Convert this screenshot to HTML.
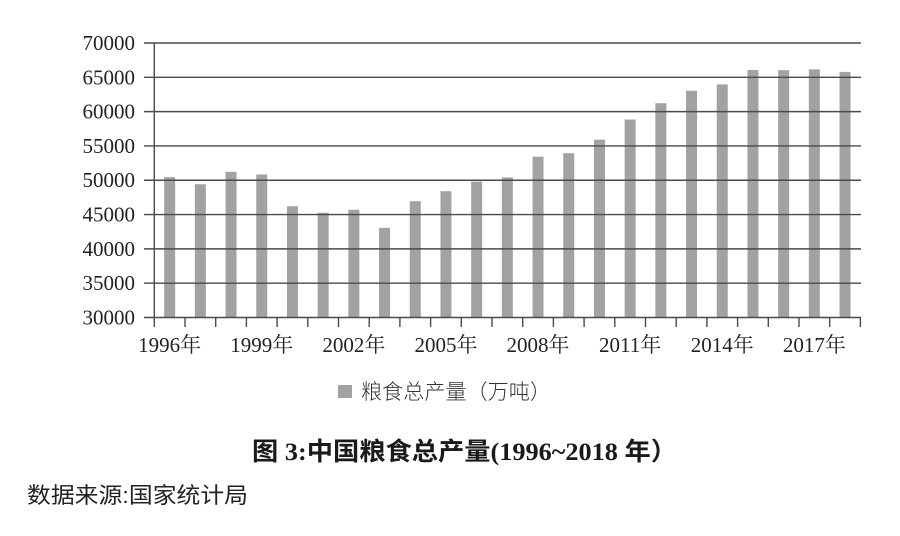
<!DOCTYPE html>
<html><head><meta charset="utf-8"><style>
html,body{margin:0;padding:0;background:#fff;}
svg{display:block;}
</style></head><body>
<svg width="900" height="536" viewBox="0 0 900 536" xmlns="http://www.w3.org/2000/svg">
<rect width="900" height="536" fill="#fff"/>
<g fill="#a2a2a2">
<rect x="164.15" y="177.13" width="11" height="140.37"/>
<rect x="194.85" y="184.25" width="11" height="133.25"/>
<rect x="225.55" y="171.81" width="11" height="145.69"/>
<rect x="256.25" y="174.49" width="11" height="143.01"/>
<rect x="286.95" y="206.20" width="11" height="111.30"/>
<rect x="317.65" y="212.75" width="11" height="104.75"/>
<rect x="348.35" y="209.72" width="11" height="107.78"/>
<rect x="379.05" y="227.81" width="11" height="89.69"/>
<rect x="409.75" y="201.20" width="11" height="116.30"/>
<rect x="440.45" y="191.22" width="11" height="126.28"/>
<rect x="471.15" y="181.59" width="11" height="135.91"/>
<rect x="501.85" y="177.41" width="11" height="140.09"/>
<rect x="532.55" y="156.68" width="11" height="160.82"/>
<rect x="563.25" y="153.20" width="11" height="164.30"/>
<rect x="593.95" y="139.69" width="11" height="177.81"/>
<rect x="624.65" y="119.52" width="11" height="197.98"/>
<rect x="655.35" y="103.23" width="11" height="214.27"/>
<rect x="686.05" y="90.71" width="11" height="226.79"/>
<rect x="716.75" y="84.41" width="11" height="233.09"/>
<rect x="747.45" y="70.04" width="11" height="247.46"/>
<rect x="778.15" y="70.15" width="11" height="247.35"/>
<rect x="808.85" y="69.34" width="11" height="248.16"/>
<rect x="839.55" y="71.90" width="11" height="245.60"/>
</g>
<g stroke="#4a4a4a" stroke-width="1.4" fill="none">
<line x1="144" y1="43" x2="861" y2="43"/>
<line x1="144" y1="77.31" x2="861" y2="77.31"/>
<line x1="144" y1="111.63" x2="861" y2="111.63"/>
<line x1="144" y1="145.94" x2="861" y2="145.94"/>
<line x1="144" y1="180.25" x2="861" y2="180.25"/>
<line x1="144" y1="214.56" x2="861" y2="214.56"/>
<line x1="144" y1="248.88" x2="861" y2="248.88"/>
<line x1="144" y1="283.19" x2="861" y2="283.19"/>
<line x1="144" y1="317.5" x2="861" y2="317.5"/>
<line x1="154.3" y1="43" x2="154.3" y2="317.5"/>
<line x1="154.3" y1="317.5" x2="154.3" y2="327"/>
<line x1="185" y1="317.5" x2="185" y2="327"/>
<line x1="215.7" y1="317.5" x2="215.7" y2="327"/>
<line x1="246.4" y1="317.5" x2="246.4" y2="327"/>
<line x1="277.1" y1="317.5" x2="277.1" y2="327"/>
<line x1="307.8" y1="317.5" x2="307.8" y2="327"/>
<line x1="338.5" y1="317.5" x2="338.5" y2="327"/>
<line x1="369.2" y1="317.5" x2="369.2" y2="327"/>
<line x1="399.9" y1="317.5" x2="399.9" y2="327"/>
<line x1="430.6" y1="317.5" x2="430.6" y2="327"/>
<line x1="461.3" y1="317.5" x2="461.3" y2="327"/>
<line x1="492" y1="317.5" x2="492" y2="327"/>
<line x1="522.7" y1="317.5" x2="522.7" y2="327"/>
<line x1="553.4" y1="317.5" x2="553.4" y2="327"/>
<line x1="584.1" y1="317.5" x2="584.1" y2="327"/>
<line x1="614.8" y1="317.5" x2="614.8" y2="327"/>
<line x1="645.5" y1="317.5" x2="645.5" y2="327"/>
<line x1="676.2" y1="317.5" x2="676.2" y2="327"/>
<line x1="706.9" y1="317.5" x2="706.9" y2="327"/>
<line x1="737.6" y1="317.5" x2="737.6" y2="327"/>
<line x1="768.3" y1="317.5" x2="768.3" y2="327"/>
<line x1="799" y1="317.5" x2="799" y2="327"/>
<line x1="829.7" y1="317.5" x2="829.7" y2="327"/>
<line x1="860.4" y1="317.5" x2="860.4" y2="327"/>
</g>
<g font-family="Liberation Serif, serif" font-size="21" fill="#222" text-anchor="end">
<text x="135" y="50">70000</text>
<text x="135" y="84.3">65000</text>
<text x="135" y="118.6">60000</text>
<text x="135" y="152.9">55000</text>
<text x="135" y="187.2">50000</text>
<text x="135" y="221.6">45000</text>
<text x="135" y="255.9">40000</text>
<text x="135" y="290.2">35000</text>
<text x="135" y="324.5">30000</text>
</g>
<g font-family="'Liberation Serif','Noto Serif CJK SC',serif" font-size="21" fill="#222" text-anchor="middle">
<text x="169.65" y="352">1996年</text>
<text x="261.75" y="352">1999年</text>
<text x="353.85" y="352">2002年</text>
<text x="445.95" y="352">2005年</text>
<text x="538.05" y="352">2008年</text>
<text x="630.15" y="352">2011年</text>
<text x="722.25" y="352">2014年</text>
<text x="814.35" y="352">2017年</text>
</g>
<rect x="338" y="385" width="14" height="13" fill="#a2a2a2"/>
<text x="361" y="399" font-family="'Liberation Sans','Noto Sans CJK SC',sans-serif" font-size="21" font-weight="300" fill="#333" textLength="190" lengthAdjust="spacingAndGlyphs">粮食总产量（万吨）</text>
<text x="252" y="460" font-family="'Liberation Serif','Noto Sans CJK SC',serif" font-size="25" font-weight="bold" fill="#1a1a1a" textLength="425" lengthAdjust="spacingAndGlyphs">图 3:中国粮食总产量(1996~2018 年）</text>
<text x="27" y="503" font-family="'Liberation Sans','Noto Sans CJK SC',sans-serif" font-size="22" font-weight="400" fill="#222" textLength="221" lengthAdjust="spacingAndGlyphs">数据来源:国家统计局</text>
</svg>
</body></html>
